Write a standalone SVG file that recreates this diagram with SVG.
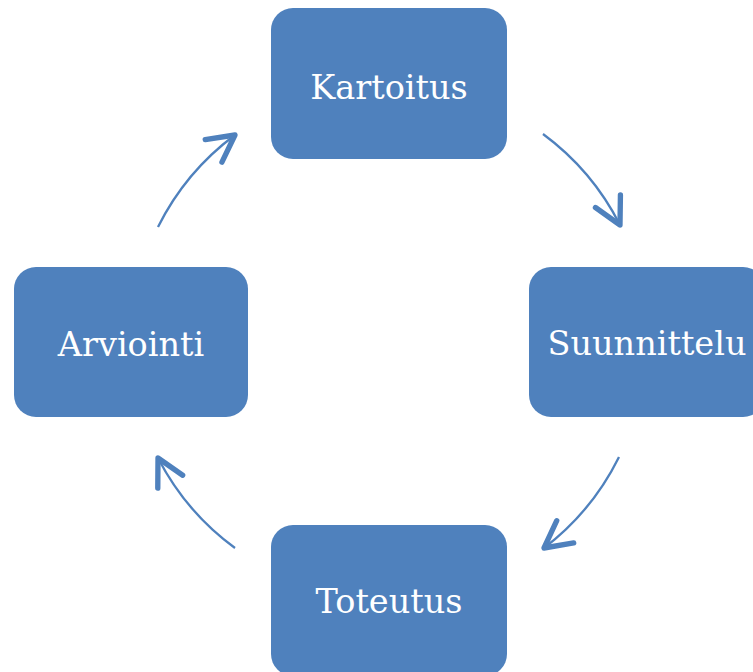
<svg xmlns="http://www.w3.org/2000/svg" width="753" height="672" viewBox="0 0 753 672">
<style>
.box{fill:#4F81BD;}
.lbl{fill:#FFFFFF;font-family:"DejaVu Serif","Liberation Serif",serif;font-size:33.5px;text-anchor:middle;}
.arc{fill:none;stroke:#4F81BD;stroke-width:2.3;}
</style>
<defs>
<marker id="head" markerUnits="userSpaceOnUse" markerWidth="40" markerHeight="40" refX="0" refY="0" viewBox="-25 -15 30 30" orient="auto" overflow="visible">
<path d="M -20 -10.5 L 0 0 L -20 10.5" fill="none" stroke="#4F81BD" stroke-width="4" stroke-linecap="round" stroke-linejoin="round"/>
</marker>
</defs>
<rect width="753" height="672" fill="#FFFFFF"/>
<g id="connectors">
<path class="arc" d="M 543 134 A 258 258 0 0 1 620 225" marker-end="url(#head)"/>
<path class="arc" d="M 619 457 A 258 258 0 0 1 544 548" marker-end="url(#head)"/>
<path class="arc" d="M 235 548 A 258 258 0 0 1 158 458" marker-end="url(#head)"/>
<path class="arc" d="M 158 227 A 258 258 0 0 1 235 135" marker-end="url(#head)"/>
</g>
<g id="kartoitus">
<rect class="box" x="271" y="8" width="236" height="151" rx="22"/>
<text class="lbl" x="389" y="99">Kartoitus</text>
</g>
<g id="suunnittelu">
<rect class="box" x="529" y="267" width="236" height="150" rx="22"/>
<text class="lbl" x="647" y="355">Suunnittelu</text>
</g>
<g id="toteutus">
<rect class="box" x="271" y="525" width="236" height="151" rx="22"/>
<text class="lbl" x="389" y="613">Toteutus</text>
</g>
<g id="arviointi">
<rect class="box" x="14" y="267" width="234" height="150" rx="22"/>
<text class="lbl" x="131" y="356">Arviointi</text>
</g>
</svg>
